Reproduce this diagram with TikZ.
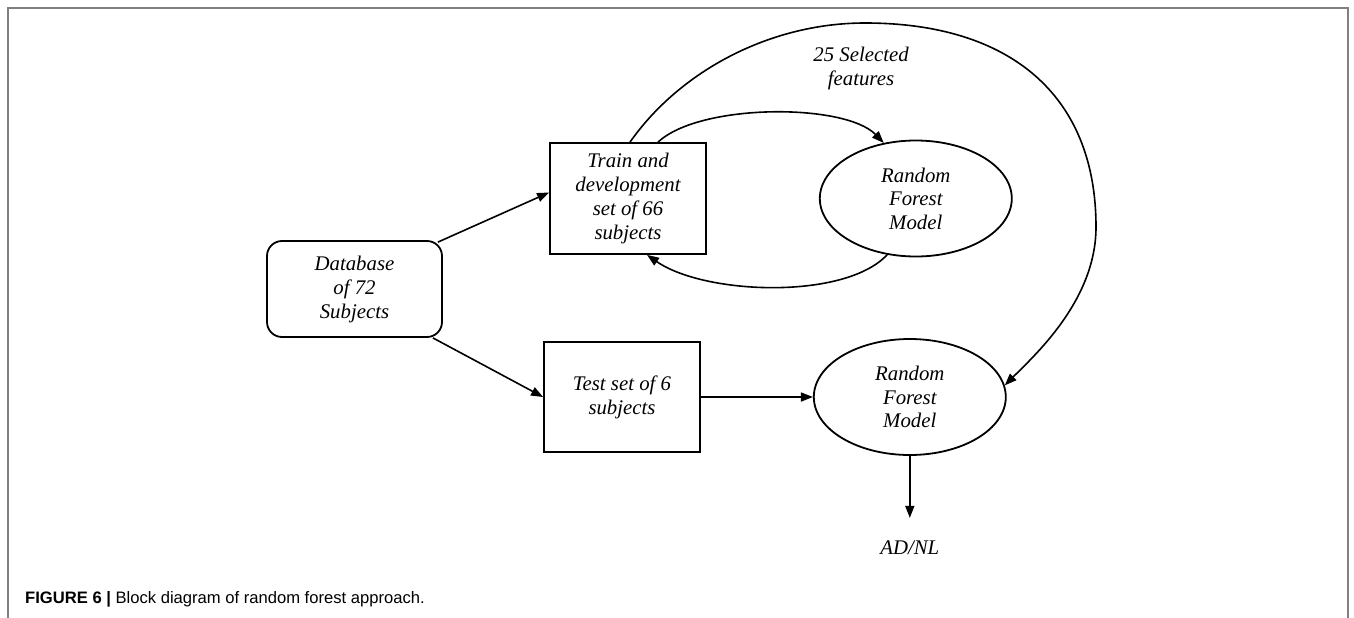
\documentclass[tikz,border=0pt]{standalone}
\usepackage{fontspec}
\setmainfont{Liberation Serif}
\newfontfamily\capfont{Liberation Sans}
\usetikzlibrary{shapes.geometric,arrows.meta,positioning}

\begin{document}
\begin{tikzpicture}[x=1pt,y=-1pt,
block/.style={draw,rectangle,line width=1.8pt,minimum width=156pt,minimum height=111pt,inner sep=0pt,align=center,font=\fontsize{20.8}{24}\selectfont\itshape},
dbase/.style={block,rounded corners=15pt,minimum width=175pt,minimum height=96pt},
model/.style={draw,ellipse,line width=1.8pt,minimum width=192pt,minimum height=116pt,inner sep=0pt,align=center,font=\fontsize{20.8}{23.5}\selectfont\itshape},
lbl/.style={align=center,font=\fontsize{20.8}{24}\selectfont\itshape},
link/.style={line width=1.6pt,-{Triangle[length=12pt,width=9pt]}}]

        \useasboundingbox (0,0) rectangle (1354,618);
        \draw [gray, line width=1.5pt] (8,618) -- (8,8) -- (1348,8) -- (1348,618);

        \node [dbase] (db) at (354.5,289) {Database\\of 72\\Subjects};
        \node [block] (train) at (628,198.5) {Train and\\development\\set of 66\\subjects};
        \node [block, minimum height=110pt] (test) at (622,397) {Test set of 6\\subjects};
        \node [model, right = 112pt of train] (rf1) {Random\\Forest\\Model};
        \node [model, right = 112pt of test] (rf2) {Random\\Forest\\Model};
        \node [lbl, inner xsep=0pt, inner ysep=23pt, below = 62pt of rf2] (adnl) {AD/NL};
        \node [lbl] (feat) at (861,68) {25 Selected\\features};

        \draw [link] ([xshift=-5pt,yshift=-2pt]db.north east) -- ([yshift=6pt]train.west);
        \draw [link] ([xshift=-10pt]db.south east) -- (test.west);
        \draw [link] ([xshift=30pt]train.north) .. controls (700,103) and (845,103) .. (rf1.120);
        \draw [link] (rf1.243) .. controls (845,300) and (705,295) .. ([xshift=19pt]train.south);
        \draw [link] ([xshift=2pt]train.north) .. controls (680,71) and (770,23) .. (865,23)
            .. controls (1010,23) and (1096,95) .. (1096,227)
            .. controls (1096,300) and (1035,355) .. (rf2.7);
        \draw [link] (test.east) -- (rf2.west);
        \draw [link] (rf2.south) -- (adnl.north);

        \node [anchor=base west, inner sep=0pt, font=\capfont\fontsize{16.6}{19}\selectfont] (cap) at (25,603) {\textbf{FIGURE 6 |} Block diagram of random forest approach.};
\end{tikzpicture}
\end{document}
